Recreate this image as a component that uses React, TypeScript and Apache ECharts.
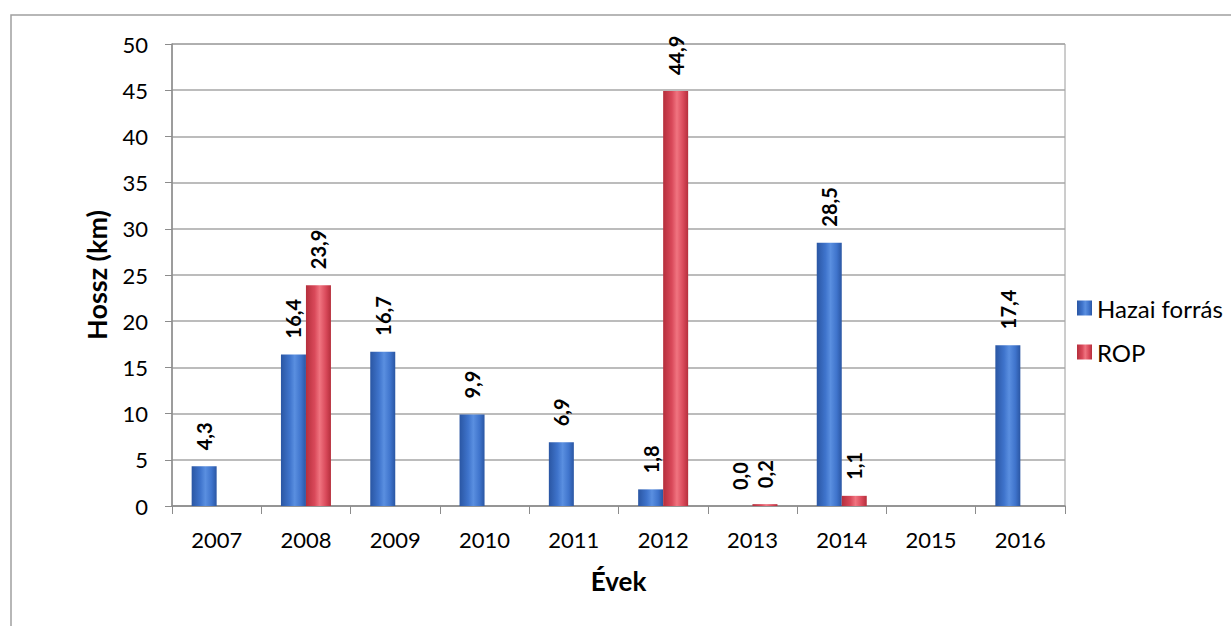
import React, { useEffect, useRef } from "react";
import * as echarts from "echarts";

const categories = ["2007", "2008", "2009", "2010", "2011", "2012", "2013", "2014", "2015", "2016"];
const hazaiForras: (number | null)[] = [4.3, 16.4, 16.7, 9.9, 6.9, 1.8, 0.0, 28.5, null, 17.4];
const rop: (number | null)[] = [null, 23.9, null, null, null, 44.9, 0.2, 1.1, null, null];
const yTicks = { min: 0, max: 50, interval: 5 };

const FONT = "Lato, 'Open Sans', sans-serif";

function cyl(edge: string, mid: string, light: string) {
  return new echarts.graphic.LinearGradient(0, 0, 1, 0, [
    { offset: 0, color: edge },
    { offset: 0.35, color: mid },
    { offset: 0.55, color: light },
    { offset: 0.8, color: mid },
    { offset: 1, color: edge },
  ]);
}

export default function App() {
  const ref = useRef<HTMLDivElement>(null);
  useEffect(() => {
    if (!ref.current) return;
    const chart = echarts.init(ref.current, null, { renderer: "svg" });
    const fmt = (p: any) => (p.value == null ? "" : Number(p.value).toFixed(1).replace(".", ","));
    const label = {
      show: true,
      position: "top",
      rotate: 90,
      align: "left",
      verticalAlign: "middle",
      distance: 16,
      fontFamily: FONT,
      fontSize: 20,
      fontWeight: "bold",
      color: "#000",
      formatter: fmt,
    };
    chart.setOption({
      animation: false,
      backgroundColor: "#fff",
      textStyle: { fontFamily: FONT },
      graphic: [
        {
          type: "rect",
          shape: { x: 11, y: 15, width: 1400, height: 800 },
          style: { fill: "none", stroke: "#a0a0a0", lineWidth: 1.5 },
          silent: true,
        },
      ],
      grid: {
        left: 172,
        right: 166,
        top: 44,
        bottom: 120,
        show: true,
        borderColor: "#9a9a9a",
        borderWidth: 1,
      },
      legend: {
        orient: "vertical",
        left: 1072,
        top: 291,
        itemWidth: 15,
        itemHeight: 15,
        itemGap: 20,
        icon: "rect",
        textStyle: { fontFamily: FONT, fontSize: 24, color: "#000", padding: [0, 0, 0, 0] },
        data: ["Hazai forrás", "ROP"],
      },
      xAxis: {
        type: "category",
        data: categories,
        name: "Évek",
        nameLocation: "middle",
        nameGap: 62,
        nameTextStyle: { fontFamily: FONT, fontSize: 26, fontWeight: "bold", color: "#000" },
        axisLine: { show: true, lineStyle: { color: "#8c8c8c", width: 1.5 } },
        axisTick: { show: true, length: 8, lineStyle: { color: "#8c8c8c" } },
        axisLabel: { fontFamily: FONT, fontSize: 22, color: "#000", margin: 22 },
      },
      yAxis: {
        type: "value",
        min: yTicks.min,
        max: yTicks.max,
        interval: yTicks.interval,
        name: "Hossz (km)",
        nameLocation: "middle",
        nameGap: 62,
        nameTextStyle: { fontFamily: FONT, fontSize: 27, fontWeight: "bold", color: "#000" },
        axisLine: { show: true, lineStyle: { color: "#8c8c8c", width: 1.5 } },
        axisTick: { show: true, length: 7, lineStyle: { color: "#8c8c8c" } },
        axisLabel: { fontFamily: FONT, fontSize: 22, color: "#000", margin: 24 },
        splitLine: { show: true, lineStyle: { color: "#a6a6a6", width: 1.5 } },
      },
      series: [
        {
          name: "Hazai forrás",
          type: "bar",
          data: hazaiForras,
          barWidth: 25,
          barGap: "0%",
          itemStyle: { color: cyl("#2a56a3", "#3f74cc", "#5a8fe0") },
          label,
        },
        {
          name: "ROP",
          type: "bar",
          data: rop,
          barWidth: 25,
          barGap: "0%",
          itemStyle: { color: cyl("#b52f3c", "#d9495a", "#f07480") },
          label,
        },
      ],
    });
    return () => chart.dispose();
  }, []);
  return (
    <div
      ref={ref}
      style={{ position: "fixed", left: 0, top: 0, width: 1231, height: 626 }}
    />
  );
}
